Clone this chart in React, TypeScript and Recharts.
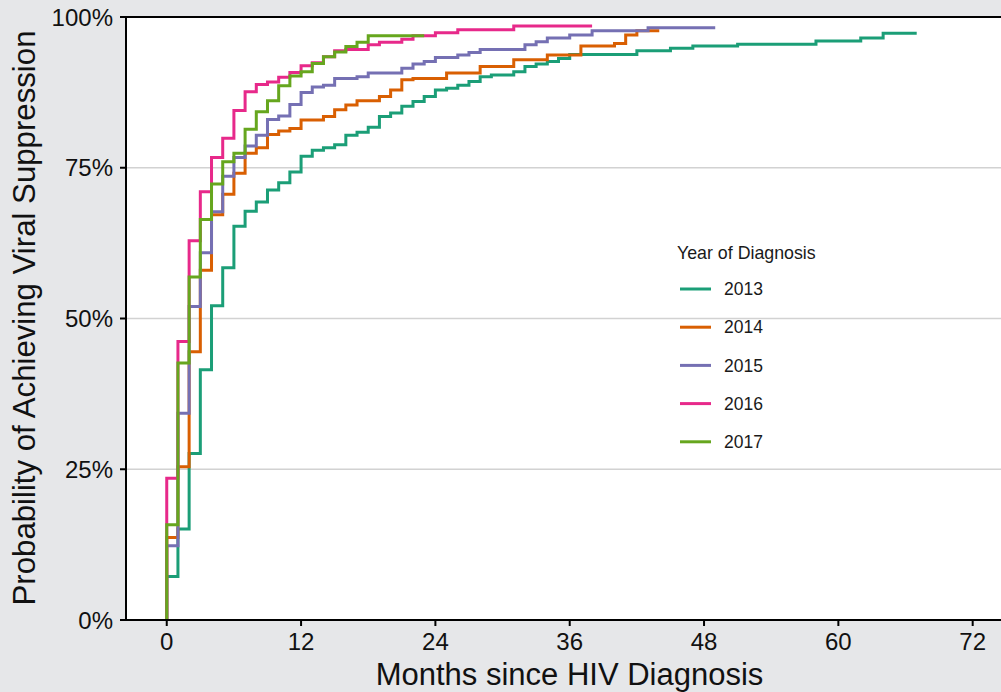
import { LineChart, Line, XAxis, YAxis, CartesianGrid, ReferenceLine, Customized } from 'recharts'

const monthTicks = [0, 12, 24, 36, 48, 60, 72]
const pctTicks = [0, 25, 50, 75, 100]

const years = ['2013', '2014', '2015', '2016', '2017']
const colors = ['#1b9e77', '#d95f02', '#7570b3', '#e7298a', '#66a61e']

// [month, cumulative % suppressed] at each step, plus the month where follow-up ends
const steps2013: [number, number][] = [
  [0, 7.2], [1, 15.1], [2, 27.6], [3, 41.5], [4, 52.1], [5, 58.4], [6, 65.3], [7, 67.8],
  [8, 69.3], [9, 71.3], [10, 72.5], [11, 74.3], [12, 76.9], [13, 77.9], [14, 78.3], [15, 78.8],
  [16, 80.4], [17, 80.9], [18, 81.7], [19, 83.5], [20, 84.1], [21, 85.2], [22, 86.0], [23, 86.8],
  [24, 87.9], [25, 88.2], [26, 88.7], [27, 89.3], [28, 90.1], [29, 90.4], [31, 90.9], [32, 91.8],
  [33, 92.2], [34, 92.6], [35, 93.1], [36, 93.8], [42, 94.4], [45, 94.8], [47, 95.2], [51, 95.5],
  [58, 96.0], [62, 96.5], [64, 97.3],
]
const end2013 = 67

const steps2014: [number, number][] = [
  [0, 13.7], [1, 25.4], [2, 44.5], [3, 58.0], [4, 67.2], [5, 70.6], [6, 74.1], [7, 77.4],
  [8, 78.3], [9, 80.5], [10, 81.1], [11, 81.5], [12, 82.9], [14, 83.5], [15, 84.6], [16, 85.4],
  [17, 86.1], [19, 86.8], [20, 87.9], [21, 89.6], [22, 89.8], [25, 90.7], [28, 91.8], [31, 92.9],
  [34, 93.7], [37, 95.2], [40, 95.6], [41, 97.0], [42, 97.7],
]
const end2014 = 44

const steps2015: [number, number][] = [
  [0, 12.3], [1, 34.3], [2, 52.0], [3, 60.9], [4, 67.7], [5, 73.6], [6, 76.7], [7, 78.6],
  [8, 80.4], [9, 83.0], [10, 83.6], [11, 85.5], [12, 87.5], [13, 88.4], [14, 88.7], [15, 89.8],
  [17, 90.1], [18, 90.7], [21, 91.5], [22, 92.2], [23, 92.6], [24, 93.3], [26, 93.7], [27, 94.1],
  [28, 94.6], [32, 95.4], [33, 95.9], [34, 96.5], [36, 97.0], [38, 97.7], [43, 98.2],
]
const end2015 = 49

const steps2016: [number, number][] = [
  [0, 23.5], [1, 46.2], [2, 62.9], [3, 71.0], [4, 76.7], [5, 79.9], [6, 84.5], [7, 87.6],
  [8, 88.8], [9, 89.2], [10, 90.0], [11, 90.8], [12, 91.9], [13, 92.4], [14, 93.4], [15, 94.4],
  [16, 94.6], [18, 95.4], [19, 95.8], [21, 96.3], [22, 96.9], [24, 97.4], [26, 97.9], [31, 98.5],
]
const end2016 = 38

const steps2017: [number, number][] = [
  [0, 15.8], [1, 42.6], [2, 56.9], [3, 66.4], [4, 72.3], [5, 76.0], [6, 77.4], [7, 81.4],
  [8, 84.3], [9, 86.1], [10, 88.6], [11, 90.2], [12, 90.9], [13, 92.3], [14, 93.4], [15, 94.2],
  [16, 95.1], [17, 95.8], [18, 96.9],
]
const end2017 = 23

// curve starts at (0, 0) and holds the last value until end of follow-up
const toCurve = (steps: [number, number][], end: number) => [
  { month: 0, pct: 0 },
  ...steps.map(([month, pct]) => ({ month, pct })),
  { month: end, pct: steps[steps.length - 1][1] },
]

const curves = [
  toCurve(steps2013, end2013),
  toCurve(steps2014, end2014),
  toCurve(steps2015, end2015),
  toCurve(steps2016, end2016),
  toCurve(steps2017, end2017),
]

const FONT = '"Liberation Sans", Arial, sans-serif'

const Titles = () => (
  <g fontFamily={FONT} fill="#111">
    <text x={569.5} y={685} textAnchor="middle" fontSize={31}>Months since HIV Diagnosis</text>
    <text transform="rotate(-90)" x={-318} y={35} textAnchor="middle" fontSize={31.2}>
      Probability of Achieving Viral Suppression
    </text>
    <text x={677} y={259} fontSize={17.8} fill="#1a1a1a">Year of Diagnosis</text>
    {years.map((yr, i) => (
      <g key={yr}>
        <line x1={680} x2={711} y1={289 + i * 38.2} y2={289 + i * 38.2} stroke={colors[i]} strokeWidth={3} />
        <text x={724} y={289 + i * 38.2} dy="0.355em" fontSize={17.5} fill="#1a1a1a">{yr}</text>
      </g>
    ))}
  </g>
)

export default function App() {
  return (
    <div style={{ position: 'absolute', left: 0, top: 0, width: 1001, height: 692, background: '#e6e7e9', overflow: 'hidden' }}>
      <LineChart width={1001} height={692} margin={{ top: 17, right: 0, bottom: 0, left: 0 }}>
        <CartesianGrid fill="#fff" vertical={false} stroke="#d2d2d2" strokeWidth={1.3} />
        <XAxis
          type="number"
          dataKey="month"
          domain={[-3.64, 74.53]}
          ticks={monthTicks}
          allowDataOverflow
          height={72}
          tickSize={6}
          tickMargin={7}
          axisLine={{ stroke: '#000', strokeWidth: 2 }}
          tickLine={{ stroke: '#000', strokeWidth: 2 }}
          tick={{ fontSize: 24, fill: '#111', fontFamily: FONT }}
        />
        <YAxis
          type="number"
          domain={[0, 100]}
          ticks={pctTicks}
          allowDataOverflow
          width={126}
          tickSize={6}
          tickMargin={7}
          tickFormatter={(v) => `${v}%`}
          axisLine={{ stroke: '#000', strokeWidth: 2 }}
          tickLine={{ stroke: '#000', strokeWidth: 2 }}
          tick={{ fontSize: 24, fill: '#111', fontFamily: FONT }}
        />
        <ReferenceLine y={100} stroke="#000" strokeWidth={2} />
        {curves.map((c, i) => (
          <Line
            key={years[i]}
            data={c}
            dataKey="pct"
            name={years[i]}
            type="stepAfter"
            stroke={colors[i]}
            strokeWidth={3}
            dot={false}
            activeDot={false}
            isAnimationActive={false}
          />
        ))}
        <Customized component={Titles} />
      </LineChart>
    </div>
  )
}
